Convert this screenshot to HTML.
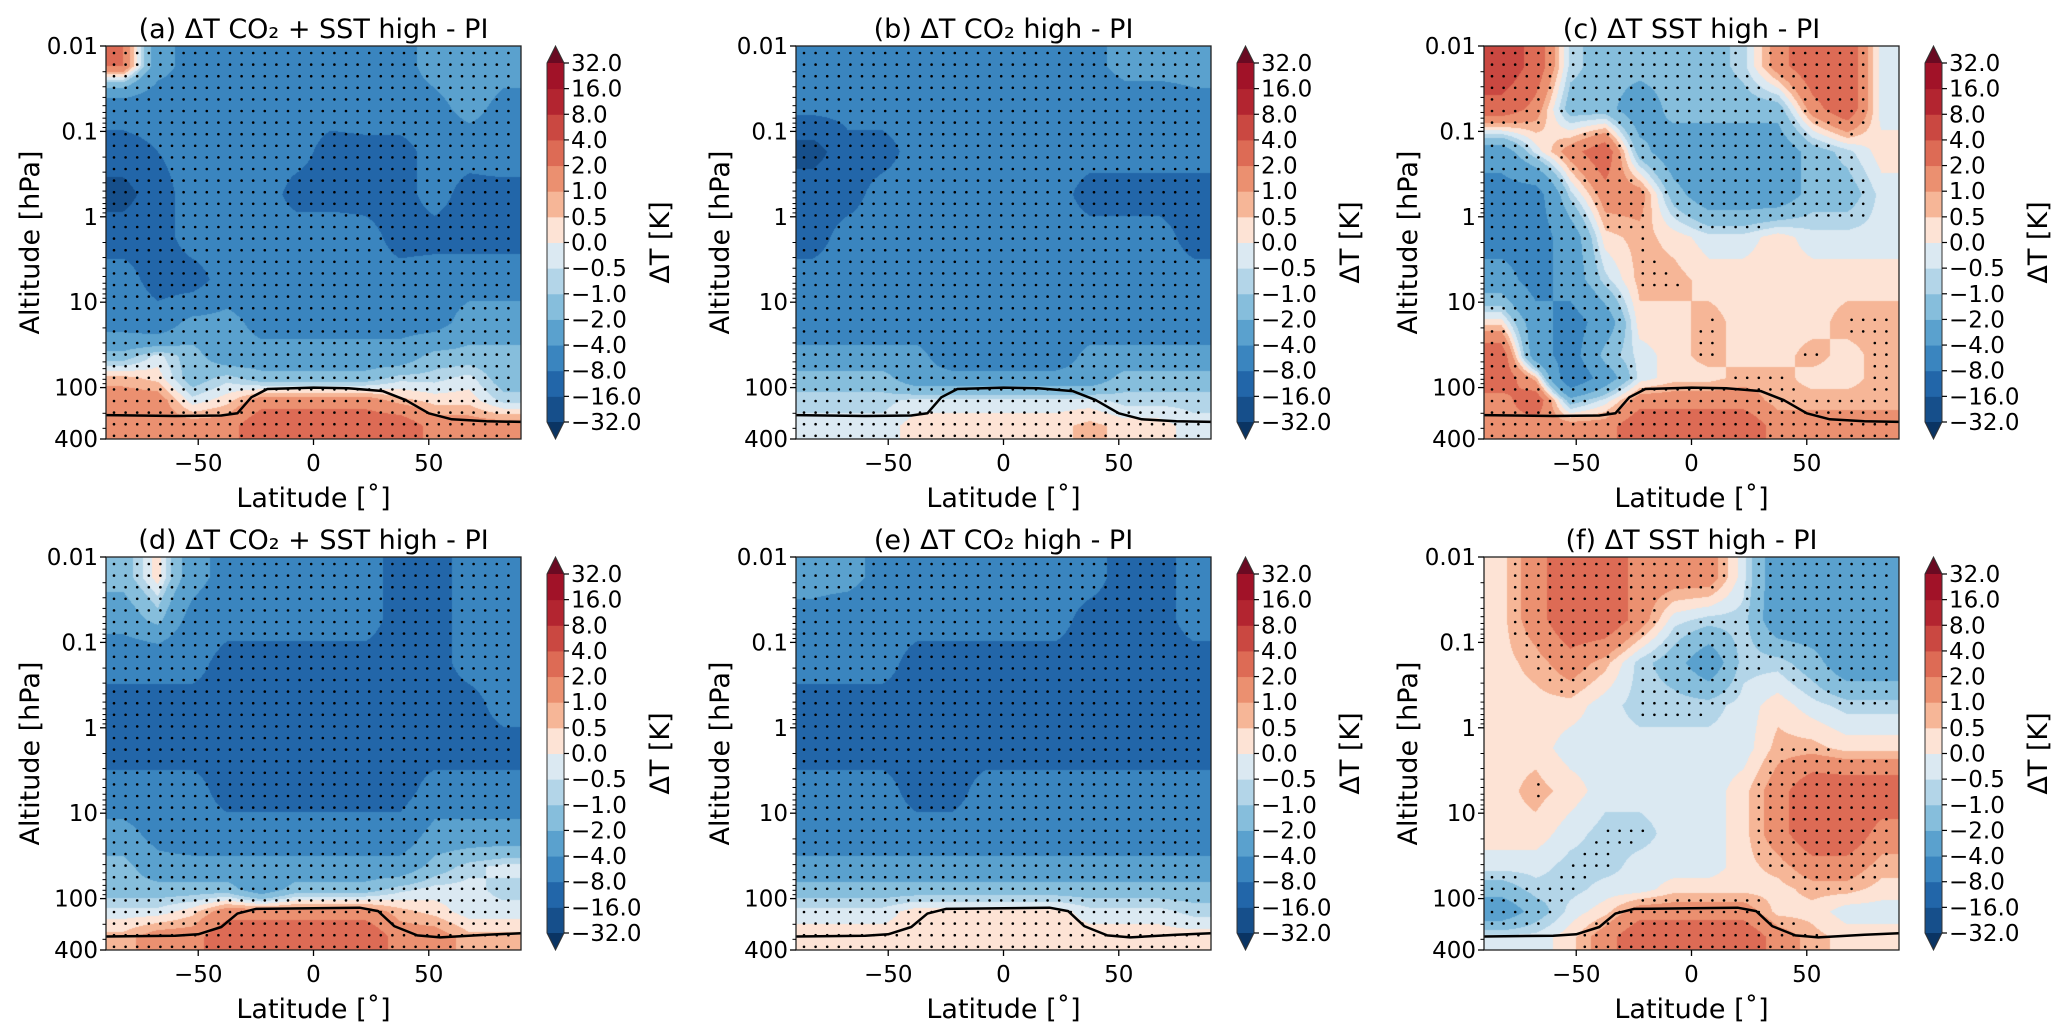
<!DOCTYPE html>
<html><head><meta charset="utf-8">
<style>
html,body{margin:0;padding:0;background:#fff;}
#fig{position:relative;width:2067px;height:1026px;overflow:hidden;font-family:"DejaVu Sans","Liberation Sans",sans-serif;}
canvas{position:absolute;}
svg{position:absolute;left:0;top:0;}
</style></head>
<body>
<div id="fig">
<svg id="svg" width="2067" height="1026"></svg>
</div>
<script>
// ----- data -----
const levels=[-32,-16,-8,-4,-2,-1,-0.5,0,0.5,1,2,4,8,16,32];
const levelLabels=["-32.0","-16.0","-8.0","-4.0","-2.0","-1.0","-0.5","0.0","0.5","1.0","2.0","4.0","8.0","16.0","32.0"];
const binColors=["#0a3463","#164f8b","#2266a9","#3a85bf","#5aa1ce","#86bedc","#b3d5e8","#dbe9f2","#fde3d5","#f6b697","#eb9070","#dd6b55","#ca4841","#b32530","#a11228","#6a0a22"];
const lats=[-82.5,-67.5,-52.5,-37.5,-22.5,-7.5,7.5,22.5,37.5,52.5,67.5,82.5];
const rowEdges=[0.01,0.03,0.1,0.3,1,3,10,30,60,100,200,400];
const yTicks=[0.01,0.1,1,10,100,400];
const yTickLabels=["0.01","0.1","1","10","100","400"];
const xTicks=[-50,0,50];
const xTickLabels=["\u221250","0","50"];
const titles=["(a) \u0394T CO\u2082 + SST high - PI","(b) \u0394T CO\u2082 high - PI","(c) \u0394T SST high - PI","(d) \u0394T CO\u2082 + SST high - PI","(e) \u0394T CO\u2082 high - PI","(f) \u0394T SST high - PI"];
const fieldA=[
[2,-3,-5,-6,-6,-6,-5,-5,-5,-3,-2,-3],
[-6,-6,-5,-6,-6,-6,-6,-5,-5,-5,-3,-5],
[-10,-8,-6,-6,-6,-6,-10,-10,-10,-6,-6,-5],
[-20,-10,-6,-6,-5,-10,-10,-10,-10,-6,-10,-10],
[-10,-10,-6,-6,-6,-5,-5,-6,-10,-10,-10,-10],
[-6,-10,-10,-6,-6,-6,-6,-6,-6,-5,-5,-5],
[-5,-6,-3,-3,-5,-5,-5,-5,-5,-5,-3,-3],
[-1.5,-0.3,-1.5,-3,-3,-3,-3,-3,-3,-1.5,-1.5,-1.5],
[0.7,0.3,-1.5,-0.7,-1.5,-1.5,-1.5,-1.5,-0.7,-0.7,-0.3,-1.5],
[1.5,1.5,-0.3,0.3,1.5,1.5,1.5,1.5,0.7,0.3,0.3,-0.7],
[1.5,1.5,1.5,1.5,3,3,3,3,3,1.5,1.5,1.5]];
const fieldB=[
[-6,-6,-6,-6,-6,-6,-6,-6,-5,-3,-3,-3],
[-6,-6,-6,-6,-6,-6,-6,-6,-6,-6,-6,-5],
[-20,-10,-10,-6,-6,-6,-6,-6,-6,-6,-6,-6],
[-10,-10,-6,-6,-6,-6,-6,-6,-10,-10,-10,-10],
[-10,-6,-6,-6,-6,-6,-6,-6,-6,-6,-6,-10],
[-6,-6,-6,-6,-6,-6,-6,-6,-6,-6,-6,-6],
[-6,-6,-6,-6,-6,-6,-6,-6,-6,-6,-6,-6],
[-3,-3,-3,-3,-6,-6,-6,-6,-3,-3,-3,-3],
[-1.5,-1.5,-1.5,-3,-3,-3,-3,-3,-3,-1.5,-1.5,-1.5],
[-0.7,-0.7,-0.7,-0.3,-0.3,-0.3,-0.3,-0.3,-0.3,-0.7,-0.7,-0.7],
[-0.3,-0.3,-0.3,0.3,0.3,0.3,0.3,0.3,0.7,0.3,0.3,-0.3]];
const fieldC=[
[6,3,-0.7,-1.5,-1.5,-1.5,-1.5,-0.7,1.5,3,3,-0.3],
[3,1.5,-1.5,-1.5,-3,-1.5,-1.5,-1.5,-1.5,1.5,3,-0.3],
[-3,-0.3,1.5,3,-1.5,-3,-3,-3,-3,-1.5,-0.7,0.3],
[-5,-5,-0.7,1.5,1.5,-1.5,-3,-3,-3,-1.5,-1.5,-0.3],
[-5,-5,-3,0.3,0.7,0.3,-0.3,-0.3,0.3,-0.3,-0.3,-0.3],
[-3,-5,-3,-0.7,0.7,0.7,0.3,0.3,0.3,0.3,0.3,0.3],
[0.3,-3,-5,-3,0.3,0.3,0.7,0.3,0.3,0.3,0.7,0.7],
[3,-3,-5,-1.5,-0.3,0.3,0.7,0.3,0.3,0.7,0.3,0.7],
[3,0.7,-6,-3,-0.3,0.3,0.3,0.7,0.7,0.3,0.3,0.7],
[1.5,3,-1.5,-0.3,1.5,1.5,1.5,1.5,0.7,0.7,0.7,0.7],
[1.5,1.5,1.5,1.5,3,3,3,3,1.5,1.5,1.5,1.5]];
const fieldD=[
[-1.5,0.3,-3,-5,-6,-6,-6,-6,-10,-10,-6,-6],
[-3,-1.5,-5,-6,-6,-6,-6,-6,-10,-10,-6,-6],
[-6,-6,-6,-10,-10,-10,-10,-10,-10,-10,-6,-6],
[-10,-10,-10,-10,-10,-10,-10,-10,-10,-10,-10,-6],
[-10,-10,-10,-10,-10,-10,-10,-10,-10,-10,-10,-10],
[-6,-6,-6,-10,-10,-10,-10,-10,-10,-6,-6,-6],
[-3,-5,-6,-6,-6,-6,-6,-6,-6,-3,-3,-3],
[-1.5,-3,-3,-3,-3,-3,-3,-3,-3,-1.5,-0.7,-0.3],
[-1.5,-1.5,-1.5,-1.5,-3,-1.5,-1.5,-1.5,-0.7,-0.3,-0.3,-0.7],
[-0.3,-0.3,0.3,1.5,1.5,1.5,1.5,1.5,0.7,0.3,-0.3,-0.3],
[0.7,1.5,1.5,3,3,3,3,3,1.5,1.5,0.7,0.7]];
const fieldE=[
[-3,-3,-5,-6,-6,-6,-6,-6,-6,-10,-10,-6],
[-5,-6,-6,-6,-6,-6,-6,-6,-10,-10,-10,-6],
[-6,-6,-6,-10,-10,-10,-10,-10,-10,-10,-10,-10],
[-10,-10,-10,-10,-10,-10,-10,-10,-10,-10,-10,-10],
[-10,-10,-10,-10,-10,-10,-10,-10,-10,-10,-10,-10],
[-6,-6,-6,-10,-10,-6,-6,-6,-6,-6,-6,-6],
[-6,-6,-6,-6,-6,-6,-6,-6,-6,-6,-6,-6],
[-3,-3,-3,-3,-3,-3,-3,-3,-3,-3,-3,-3],
[-1.5,-1.5,-1.5,-1.5,-1.5,-1.5,-1.5,-1.5,-1.5,-1.5,-1.5,-1.5],
[-0.3,-0.3,-0.3,0.3,0.3,0.3,0.3,0.3,-0.3,-0.3,-0.3,-0.7],
[0.3,0.3,0.3,0.3,0.3,0.3,0.3,0.3,0.3,0.3,0.3,0.3]];
const fieldF=[
[0.3,1.5,3,3,1.5,1.5,1.5,-0.3,-3,-3,-3,-3],
[0.3,1.5,3,3,1.5,-0.3,-0.7,-0.7,-3,-3,-3,-3],
[0.3,0.7,1.5,0.7,-0.7,-1.5,-3,-0.7,-0.7,-1.5,-3,-3],
[0.3,0.3,0.3,-0.3,-0.7,-0.7,-0.7,-0.3,0.3,-0.3,-0.7,-0.7],
[0.3,0.3,-0.3,-0.3,-0.3,-0.3,-0.3,-0.3,0.7,0.7,0.3,0.3],
[0.3,0.7,0.3,-0.3,-0.3,-0.3,-0.3,0.3,1.5,3,3,3],
[0.3,0.3,-0.3,-0.7,-0.7,-0.3,-0.3,0.3,1.5,3,3,1.5],
[-0.3,-0.3,-0.7,-0.7,-0.3,-0.3,-0.3,0.3,0.7,1.5,1.5,0.7],
[-1.5,-0.7,-0.7,-0.3,-0.3,0.3,0.3,0.3,0.3,0.7,0.7,0.3],
[-3,-1.5,-0.3,0.3,1.5,1.5,1.5,1.5,0.3,0.3,-0.3,-0.3],
[-0.3,-0.3,0.3,1.5,3,3,3,3,1.5,0.7,0.3,0.3]];
const tropLatTop=[-90,-60,-40,-33,-27,-20,0,15,30,40,50,60,75,90];
const tropPTop=[210,215,212,200,130,104,100,102,110,140,200,235,248,252];
const tropLatBot=[-90,-60,-50,-40,-33,-25,0,20,28,35,45,55,75,90];
const tropPBot=[278,272,262,215,150,132,130,128,140,210,270,285,265,255];
const fields=[fieldA,fieldB,fieldC,fieldD,fieldE,fieldF];
const stipFull=[true,true,false,true,true,false];

// ----- layout -----
const colX=[106,796,1484], rowY=[46,557], PW=415, PH=393;
const LMIN=-2, LSPAN=Math.log10(400)+2;
const NS="http://www.w3.org/2000/svg";
const svg=document.getElementById('svg');
const fig=document.getElementById('fig');
function el(tag,attrs,parent){const e=document.createElementNS(NS,tag);for(const k in attrs)e.setAttribute(k,attrs[k]);(parent||svg).appendChild(e);return e;}
function binOf(v){let i=0;while(i<levels.length&&v>=levels[i])i++;return i;}
const rowCenters=[];for(let i=0;i<rowEdges.length-1;i++)rowCenters.push((Math.log10(rowEdges[i])+Math.log10(rowEdges[i+1]))/2);
function interp(arr,v){
 if(v<=arr[0])return 0; if(v>=arr[arr.length-1])return arr.length-1;
 for(let i=0;i<arr.length-1;i++){if(v>=arr[i]&&v<=arr[i+1])return i+(v-arr[i])/(arr[i+1]-arr[i]);}
 return 0;}
function valueAt(f,lat,lp){
 const fx=interp(lats,lat), fy=interp(rowCenters,lp);
 const x0=Math.floor(fx),y0=Math.floor(fy),x1=Math.min(x0+1,11),y1=Math.min(y0+1,10);
 const tx=fx-x0,ty=fy-y0;
 return (f[y0][x0]*(1-tx)+f[y0][x1]*tx)*(1-ty)+(f[y1][x0]*(1-tx)+f[y1][x1]*tx)*ty;}
function hex(c){return [parseInt(c.slice(1,3),16),parseInt(c.slice(3,5),16),parseInt(c.slice(5,7),16)];}
const rgb=binColors.map(hex);

for(let p=0;p<6;p++){
 const X=colX[p%3], Y=rowY[Math.floor(p/3)], f=fields[p];
 const xs=lat=>X+(lat+90)/180*PW;
 const ys=pr=>Y+(Math.log10(pr)-LMIN)/LSPAN*PH;
 const cv=document.createElement('canvas');cv.width=PW;cv.height=PH;
 cv.style.left=X+'px';cv.style.top=Y+'px';
 
 
 fig.insertBefore(cv,svg);
 const ctx=cv.getContext('2d');const img=ctx.createImageData(PW,PH);
 for(let j=0;j<PH;j++){const lp=LMIN+(j+0.5)/PH*LSPAN;
  for(let i=0;i<PW;i++){const lat=-90+(i+0.5)/PW*180;
   const c=rgb[binOf(valueAt(f,lat,lp))];const k=(j*PW+i)*4;
   img.data[k]=c[0];img.data[k+1]=c[1];img.data[k+2]=c[2];img.data[k+3]=255;}}
 ctx.putImageData(img,0,0);
 const g=el('g',{});
 
 
 const sg=el('g',{fill:'#000'},g);
 
 
 for(let yy=Y+7;yy<Y+PH-3;yy+=11.6){for(let xx=X+8;xx<X+PW-3;xx+=11.6){
  const lat=-90+(xx-X)/PW*180, lp=LMIN+(yy-Y)/PH*LSPAN;
  const v=valueAt(f,lat,lp);
  if(stipFull[p]||Math.abs(v)>=0.6){el('circle',{cx:xx.toFixed(1),cy:yy.toFixed(1),r:1.3},sg);}
 }}
 const tl=p<3?tropLatTop:tropLatBot, tp=p<3?tropPTop:tropPBot;
 let d='';tl.forEach((la,i)=>{d+=(i?'L':'M')+xs(la).toFixed(1)+','+ys(tp[i]).toFixed(1);});
 const tline=el('path',{d:d,fill:'none',stroke:'#000','stroke-width':2.5,'stroke-linejoin':'round'},g);
 
 
 const fr=el('rect',{x:X,y:Y,width:PW,height:PH,fill:'none',stroke:'#222','stroke-width':1.3},g);
 
 
 yTicks.forEach((t,i)=>{const y=ys(t);
  el('line',{x1:X-6,x2:X,y1:y,y2:y,stroke:'#000','stroke-width':1.3},g);
  const tx=el('text',{x:X-8,y:y+8,'text-anchor':'end','font-size':23},g);tx.textContent=yTickLabels[i];
  
  });
 for(let e=-2;e<=2;e++)for(let m=2;m<=9;m++){const pr=m*Math.pow(10,e);if(pr>400)continue;const y=ys(pr);
  el('line',{x1:X-3.5,x2:X,y1:y,y2:y,stroke:'#000','stroke-width':1},g);}
 xTicks.forEach((t,i)=>{const x=xs(t);
  el('line',{x1:x,x2:x,y1:Y+PH,y2:Y+PH+6,stroke:'#000','stroke-width':1.3},g);
  const tx=el('text',{x:x,y:Y+PH+32,'text-anchor':'middle','font-size':23},g);tx.textContent=xTickLabels[i];
  
  });
 const xl=el('text',{x:X+PW/2,y:Y+PH+68,'text-anchor':'middle','font-size':27},g);xl.textContent='Latitude [\u02da]';
 
 
 const yl=el('text',{x:0,y:0,'text-anchor':'middle','font-size':27,transform:`translate(${X-67},${Y+PH/2}) rotate(-90)`},g);yl.textContent='Altitude [hPa]';
 
 
 const ti=el('text',{x:X+PW/2,y:Y-8,'text-anchor':'middle','font-size':27},g);ti.textContent=titles[p];
 
 
 const cg=el('g',{},g);
 
 
 const CX=X+441, CW=17, tri=17, cTop=Y+tri, cBot=Y+PH-tri, nb=levels.length-1, bh=(cBot-cTop)/nb;
 for(let b=0;b<nb;b++){el('rect',{x:CX,y:(cBot-(b+1)*bh).toFixed(2),width:CW,height:(bh+0.5).toFixed(2),fill:binColors[b+1]},cg);}
 el('polygon',{points:`${CX},${cTop} ${CX+CW/2},${Y} ${CX+CW},${cTop}`,fill:binColors[15]},cg);
 el('polygon',{points:`${CX},${cBot} ${CX+CW/2},${Y+PH} ${CX+CW},${cBot}`,fill:binColors[0]},cg);
 el('path',{d:`M${CX},${cTop}L${CX+CW/2},${Y}L${CX+CW},${cTop}L${CX+CW},${cBot}L${CX+CW/2},${Y+PH}L${CX},${cBot}Z`,fill:'none',stroke:'#333','stroke-width':1},cg);
 levels.forEach((lv,i)=>{const y=cBot-i*bh;
  el('line',{x1:CX+CW,x2:CX+CW+5,y1:y,y2:y,stroke:'#000','stroke-width':1.2},cg);
  const tx=el('text',{x:CX+CW+7,y:y+8,'font-size':23},cg);tx.textContent=levelLabels[i].replace('-','\u2212');
  
  });
 const cl=el('text',{x:0,y:0,'text-anchor':'middle','font-size':27,transform:`translate(${CX+CW+105},${Y+PH/2}) rotate(-90)`},cg);cl.textContent='\u0394T [K]';
 
 
}
</script>
</body></html>
